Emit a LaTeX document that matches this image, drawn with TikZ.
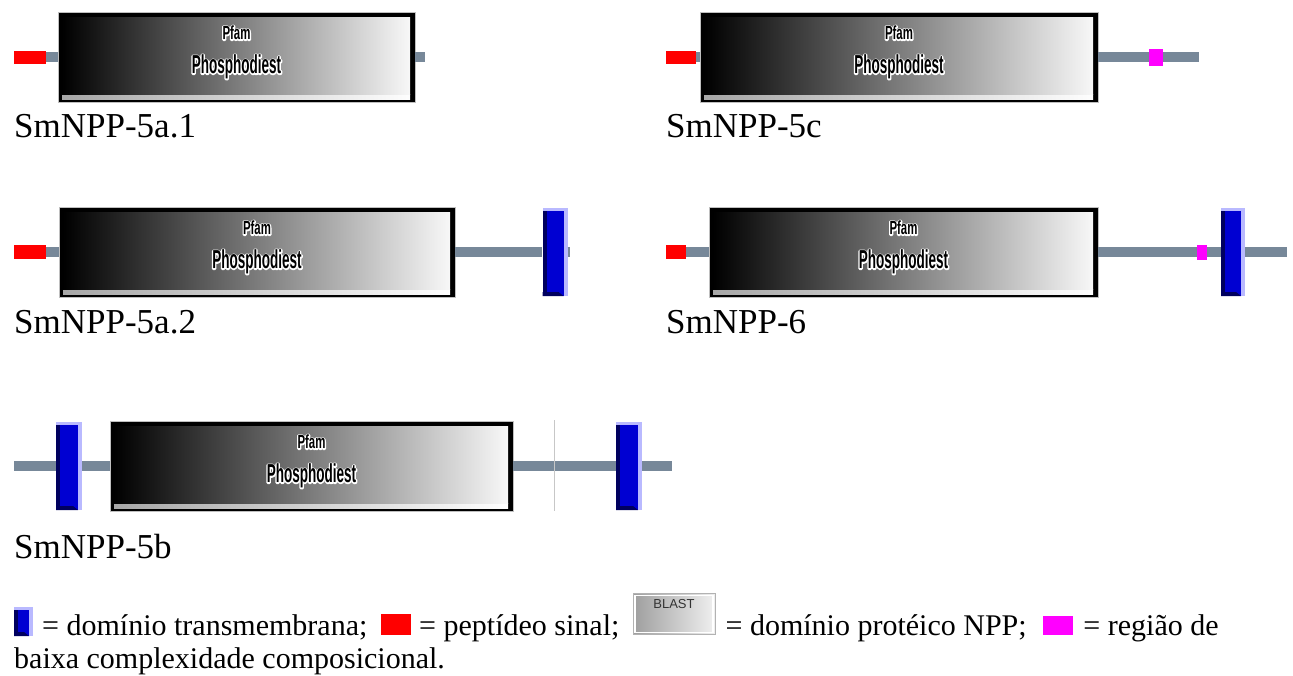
\documentclass[tikz,border=0pt]{standalone}
\usepackage{fontspec}
\setmainfont{Liberation Serif}
\newfontfamily\domfont[FakeStretch=0.52]{Liberation Sans}
\newfontfamily\tagfont[FakeStretch=0.6]{Liberation Sans}
\newfontfamily\btnfont{Liberation Sans}
\usetikzlibrary{positioning}

\definecolor{stemgray}{RGB}{119,136,153}
\definecolor{tmblue}{RGB}{0,0,210}
\definecolor{tmnavy}{RGB}{0,0,95}
\definecolor{tmedge}{RGB}{185,185,255}
\definecolor{lowmag}{RGB}{255,0,255}

% black text over a thick white outline of itself
\newcommand\glow[1]{%
  \makebox[0pt][l]{\special{pdf:literal direct 1 Tr 1 G 2.6 w 1 j}#1\special{pdf:literal direct 0 Tr 0 G}}%
  #1}

\tikzset{
  stem/.style={draw=stemgray, line width=10pt},
  pfam/.style={rectangle, inner sep=0pt, minimum height=90pt, fill=black, draw=black!25, line width=0.5pt,
    path picture={
      \shade[left color=black!35, right color=white] ([shift={(4pt,3pt)}]path picture bounding box.south west) rectangle ([shift={(-5pt,8pt)}]path picture bounding box.south east);
      \shade[left color=black, right color=black!3] ([shift={(4pt,8pt)}]path picture bounding box.south west) rectangle ([shift={(-5pt,-5pt)}]path picture bounding box.north east);
    }},
  sigpep/.style={rectangle, inner sep=0pt, fill=red, minimum width=32pt, minimum height=13pt},
  lowcx/.style={rectangle, inner sep=0pt, fill=lowmag, minimum width=14pt, minimum height=17pt},
  tmbar/.style={rectangle, inner sep=0pt, fill=tmedge, minimum width=26pt, minimum height=88pt,
    path picture={
      \fill[tmblue] (path picture bounding box.south west) rectangle ([shift={(-4pt,-3pt)}]path picture bounding box.north east);
      \fill[tmnavy] (path picture bounding box.south west) rectangle ([shift={(4pt,-3pt)}]path picture bounding box.north west);
      \fill[tmnavy] (path picture bounding box.south west) -- ([xshift=-4pt]path picture bounding box.south east)
        -- ([shift={(-9pt,4pt)}]path picture bounding box.south east) -- ([yshift=4pt]path picture bounding box.south west) -- cycle;
    }},
  blastbtn/.style={rectangle, inner sep=0pt, minimum width=82pt, minimum height=41pt, draw=black!30, line width=0.8pt,
    left color=black!38, right color=black!6,
    path picture={
      \draw[white, line width=1.5pt] ([shift={(2pt,2pt)}]path picture bounding box.south west) rectangle ([shift={(-2pt,-2pt)}]path picture bounding box.north east);
    }},
  pfamtag/.style={inner sep=0pt, anchor=base, font=\tagfont\bfseries\fontsize{19}{19}\selectfont},
  pfamdom/.style={inner sep=0pt, anchor=base, font=\domfont\bfseries\fontsize{26}{26}\selectfont},
  protname/.style={inner sep=0pt, anchor=base west, font=\fontsize{35}{40}\selectfont},
  keytext/.style={inner sep=0pt, anchor=base west, font=\fontsize{30}{33}\selectfont},
  btntext/.style={inner sep=0pt, font=\btnfont\fontsize{13}{13}\selectfont, text=black!80},
}

\begin{document}
\begin{tikzpicture}[x=1pt, y=-1pt]
\useasboundingbox (0,0) rectangle (1293,675);

% SmNPP-5a.1
\node (sp1) [sigpep] at (30,57) {};
\node (d1) [pfam, minimum width=357pt] at (236.5,57) {};
\coordinate (e1) at (425,57);
\draw [stem] (sp1) -- (d1);
\draw [stem] (d1) -- (e1);
\node (d1tag) [pfamtag] at ([yshift=-28pt]d1.north) {\glow{Pfam}};
\node (d1name) [pfamdom] at ([yshift=-62pt]d1.north) {\glow{Phosphodiest}};
\node (n1) [protname] at (14,137) {SmNPP-5a.1};

% SmNPP-5c
\node (sp2) [sigpep, minimum width=30pt] at (681,57) {};
\node (d2) [pfam, minimum width=398pt] at (899,57) {};
\node (lc2) [lowcx] at (1156,57) {};
\coordinate (e2) at (1199,57);
\draw [stem] (sp2) -- (d2);
\draw [stem] (d2) -- (lc2);
\draw [stem] (lc2) -- (e2);
\node (d2tag) [pfamtag] at ([yshift=-28pt]d2.north) {\glow{Pfam}};
\node (d2name) [pfamdom] at ([yshift=-62pt]d2.north) {\glow{Phosphodiest}};
\node (n2) [protname] at (666,137) {SmNPP-5c};

% SmNPP-5a.2
\node (sp3) [sigpep, minimum height=14pt] at (30,252) {};
\node (d3) [pfam, minimum width=396pt] at (257,252) {};
\node (tm3) [tmbar, minimum width=25pt] at (555,252) {};
\coordinate (e3) at (570,252);
\draw [stem] (sp3) -- (d3);
\draw [stem] (d3) -- (tm3);
\draw [stem] (tm3) -- (e3);
\node (d3tag) [pfamtag] at ([yshift=-28pt]d3.north) {\glow{Pfam}};
\node (d3name) [pfamdom] at ([yshift=-62pt]d3.north) {\glow{Phosphodiest}};
\node (n3) [protname] at (14,333) {SmNPP-5a.2};

% SmNPP-6
\node (sp4) [sigpep, minimum width=20pt, minimum height=14pt] at (676,252) {};
\node (d4) [pfam, minimum width=389pt] at (903.5,252) {};
\node (lc4) [lowcx, minimum width=10pt, minimum height=15pt] at (1202,252) {};
\node (tm4) [tmbar, minimum width=24pt] at (1233,252) {};
\coordinate (e4) at (1287,252);
\draw [stem] (sp4) -- (d4);
\draw [stem] (d4) -- (lc4);
\draw [stem] (lc4) -- (tm4);
\draw [stem] (tm4) -- (e4);
\node (d4tag) [pfamtag] at ([yshift=-28pt]d4.north) {\glow{Pfam}};
\node (d4name) [pfamdom] at ([yshift=-62pt]d4.north) {\glow{Phosphodiest}};
\node (n4) [protname] at (666,333) {SmNPP-6};

% SmNPP-5b
\coordinate (s5) at (14,466);
\node (tm5a) [tmbar] at (69,466) {};
\node (d5) [pfam, minimum width=403pt] at (311.5,466) {};
\node (tm5b) [tmbar] at (629,466) {};
\coordinate (e5) at (672,466);
\draw [stem] (s5) -- (tm5a);
\draw [stem] (tm5a) -- (d5);
\draw [stem] (d5) -- (tm5b);
\draw [stem] (tm5b) -- (e5);
\draw [black!22, line width=0.6pt] (554,420) -- (554,511);
\node (d5tag) [pfamtag] at ([yshift=-28pt]d5.north) {\glow{Pfam}};
\node (d5name) [pfamdom] at ([yshift=-62pt]d5.north) {\glow{Phosphodiest}};
\node (n5) [protname] at (14,558) {SmNPP-5b};

% key
\node (kTM) [tmbar, minimum width=19pt, minimum height=29pt] at (23.5,621.5) {};
\node (kTMtxt) [keytext] at (42,635) {= domínio transmembrana;};
\node (kSP) [sigpep, minimum width=30pt, minimum height=21pt, anchor=south west] at ([xshift=13pt]kTMtxt.base east) {};
\node (kSPtxt) [keytext] at ([xshift=8pt]kSP.south east) {= peptídeo sinal;};
\node (kBL) [blastbtn, anchor=south west] at ([xshift=13pt]kSPtxt.base east) {};
\node (kBLlab) [btntext] at ([yshift=-11pt]kBL.north) {BLAST};
\node (kBLtxt) [keytext] at ([xshift=10pt]kBL.south east) {= domínio protéico NPP;};
\node (kLC) [lowcx, minimum width=30pt, minimum height=19pt, anchor=south west] at ([xshift=16pt]kBLtxt.base east) {};
\node (kLCtxt) [keytext] at ([xshift=10pt]kLC.south east) {= região de};
\node (kEnd) [keytext] at (14,668) {baixa complexidade composicional.};
\end{tikzpicture}
\end{document}
